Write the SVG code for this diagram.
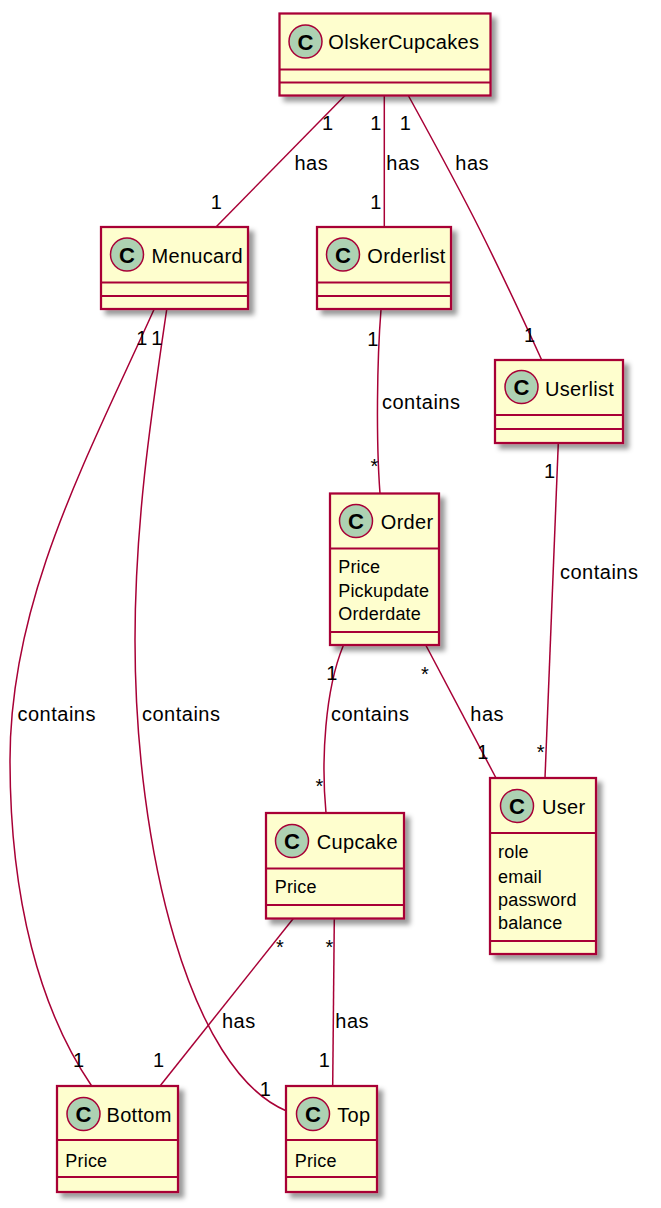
<svg xmlns="http://www.w3.org/2000/svg" width="661" height="1208" viewBox="0 0 661 1208">
<defs>
<filter id="sh" x="-20%" y="-20%" width="150%" height="150%">
<feGaussianBlur in="SourceAlpha" stdDeviation="2.5"/>
<feColorMatrix type="matrix" values="0 0 0 0 0  0 0 0 0 0  0 0 0 0 0  0 0 0 0.4 0"/>
<feOffset dx="5" dy="5" result="s"/>
<feMerge><feMergeNode in="s"/><feMergeNode in="SourceGraphic"/></feMerge>
</filter>
<style>
.box{fill:#FEFECE;stroke:#A80036;stroke-width:2.25}
.div{stroke:#A80036;stroke-width:2}
.ci{fill:#ADD1B2;stroke:#A80036;stroke-width:1.5}
.cl{font-family:"Liberation Sans",Arial,sans-serif;font-weight:bold;font-size:22px;fill:#000;text-anchor:middle}
.nm{font-family:"Liberation Sans",Arial,sans-serif;font-size:20px;letter-spacing:0.3px;fill:#000}
.at{font-family:"Liberation Sans",Arial,sans-serif;font-size:18px;letter-spacing:0.2px;fill:#000}
.lb{font-family:"Liberation Sans",Arial,sans-serif;font-size:20px;letter-spacing:0.5px;fill:#000}
.ln{fill:none;stroke:#A80036;stroke-width:1.5}
</style>
</defs>
<rect width="661" height="1208" fill="#FFFFFF"/>

<g id="connectors">
<path class="ln" d="M345,95.5 L216,227"/>
<path class="ln" d="M384.3,95.5 L384.3,227"/>
<path class="ln" d="M408.3,95.5 C430,135 460,190 480,230 C505,280 528,330 541.7,360"/>
<path class="ln" d="M381,309.5 C377,360 376,440 380,493.5"/>
<path class="ln" d="M558.3,443 L545,778"/>
<path class="ln" d="M154,309.5 C86,460 10,600 10,760 C10,900 40,1010 91.7,1086"/>
<path class="ln" d="M166.7,309.5 C152,410 135,520 135,640 C135,850 190,1070 286,1110.7"/>
<path class="ln" d="M343.3,645.5 C325,690 321,760 326,813"/>
<path class="ln" d="M426,645.5 L496,778"/>
<path class="ln" d="M293.3,918.5 L160,1086"/>
<path class="ln" d="M334.3,918.5 L332.7,1086"/>

<text class="lb" x="322" y="130">1</text>
<text class="lb" x="294.5" y="170">has</text>
<text class="lb" x="210.7" y="209.3">1</text>

<text class="lb" x="370.3" y="130">1</text>
<text class="lb" x="386.3" y="170">has</text>
<text class="lb" x="370.3" y="209.3">1</text>

<text class="lb" x="399.7" y="130">1</text>
<text class="lb" x="455.3" y="170">has</text>
<text class="lb" x="524" y="341.7">1</text>

<text class="lb" x="367.3" y="346">1</text>
<text class="lb" x="382" y="409.3">contains</text>
<text class="lb" x="370.4" y="472.6">*</text>

<text class="lb" x="544" y="478.3">1</text>
<text class="lb" x="560" y="579">contains</text>
<text class="lb" x="536.7" y="759.3">*</text>

<text class="lb" x="136.3" y="345">1</text>
<text class="lb" x="17.5" y="720.7">contains</text>
<text class="lb" x="73" y="1066.7">1</text>

<text class="lb" x="151.3" y="345">1</text>
<text class="lb" x="142" y="720.7">contains</text>
<text class="lb" x="259.7" y="1096">1</text>

<text class="lb" x="326.3" y="680">1</text>
<text class="lb" x="331" y="720.7">contains</text>
<text class="lb" x="315.4" y="792.6">*</text>

<text class="lb" x="421" y="681">*</text>
<text class="lb" x="470.3" y="720.7">has</text>
<text class="lb" x="477.3" y="759.3">1</text>

<text class="lb" x="276" y="954">*</text>
<text class="lb" x="222" y="1028.3">has</text>
<text class="lb" x="153" y="1066.7">1</text>

<text class="lb" x="325.4" y="953.6">*</text>
<text class="lb" x="335.3" y="1028.3">has</text>
<text class="lb" x="318.7" y="1066.7">1</text>
</g>

<g id="OlskerCupcakes">
<rect class="box" x="279.5" y="13.5" width="211" height="82" filter="url(#sh)"/>
<line class="div" x1="279.5" y1="69.5" x2="490.5" y2="69.5"/>
<line class="div" x1="279.5" y1="82.5" x2="490.5" y2="82.5"/>
<circle class="ci" cx="305.5" cy="41.5" r="16.5"/>
<text class="cl" x="305.5" y="49.5">C</text>
<text class="nm" x="328.3" y="49">OlskerCupcakes</text>
</g>

<g id="Menucard">
<rect class="box" x="101" y="227" width="147" height="82" filter="url(#sh)"/>
<line class="div" x1="101" y1="282.5" x2="248" y2="282.5"/>
<line class="div" x1="101" y1="296" x2="248" y2="296"/>
<circle class="ci" cx="127" cy="254.5" r="16.5"/>
<text class="cl" x="127" y="262.5">C</text>
<text class="nm" x="151.5" y="263">Menucard</text>
</g>

<g id="Orderlist">
<rect class="box" x="317" y="227" width="134" height="82" filter="url(#sh)"/>
<line class="div" x1="317" y1="282.5" x2="451" y2="282.5"/>
<line class="div" x1="317" y1="296" x2="451" y2="296"/>
<circle class="ci" cx="343" cy="254.5" r="16.5"/>
<text class="cl" x="343" y="262.5">C</text>
<text class="nm" x="367.3" y="263">Orderlist</text>
</g>

<g id="Userlist">
<rect class="box" x="495" y="360" width="128" height="83" filter="url(#sh)"/>
<line class="div" x1="495" y1="415" x2="623" y2="415"/>
<line class="div" x1="495" y1="429" x2="623" y2="429"/>
<circle class="ci" cx="521.5" cy="387" r="16.5"/>
<text class="cl" x="521.5" y="395">C</text>
<text class="nm" x="545" y="395.5">Userlist</text>
</g>

<g id="Order">
<rect class="box" x="330" y="493.5" width="109" height="151.5" filter="url(#sh)"/>
<line class="div" x1="330" y1="548.5" x2="439" y2="548.5"/>
<line class="div" x1="330" y1="632" x2="439" y2="632"/>
<circle class="ci" cx="356" cy="521" r="16.5"/>
<text class="cl" x="356" y="529">C</text>
<text class="nm" x="380.8" y="529">Order</text>
<text class="at" x="338.2" y="573">Price</text>
<text class="at" x="338.2" y="596.7">Pickupdate</text>
<text class="at" x="338.2" y="620">Orderdate</text>
</g>

<g id="Cupcake">
<rect class="box" x="266" y="813" width="138" height="105.5" filter="url(#sh)"/>
<line class="div" x1="266" y1="868.5" x2="404" y2="868.5"/>
<line class="div" x1="266" y1="905" x2="404" y2="905"/>
<circle class="ci" cx="292" cy="841" r="16.5"/>
<text class="cl" x="292" y="849">C</text>
<text class="nm" x="316.8" y="848.5">Cupcake</text>
<text class="at" x="274.7" y="893.3">Price</text>
</g>

<g id="User">
<rect class="box" x="490" y="778" width="106" height="176" filter="url(#sh)"/>
<line class="div" x1="490" y1="833" x2="596" y2="833"/>
<line class="div" x1="490" y1="941" x2="596" y2="941"/>
<circle class="ci" cx="517" cy="806" r="16.5"/>
<text class="cl" x="517" y="814">C</text>
<text class="nm" x="542" y="814">User</text>
<text class="at" x="498" y="858.3">role</text>
<text class="at" x="498" y="882.5">email</text>
<text class="at" x="498" y="905.5">password</text>
<text class="at" x="498" y="929.3">balance</text>
</g>

<g id="Bottom">
<rect class="box" x="57" y="1086" width="121" height="106" filter="url(#sh)"/>
<line class="div" x1="57" y1="1140" x2="178" y2="1140"/>
<line class="div" x1="57" y1="1177" x2="178" y2="1177"/>
<circle class="ci" cx="83.5" cy="1114" r="16.5"/>
<text class="cl" x="83.5" y="1122">C</text>
<text class="nm" x="106.5" y="1121.5">Bottom</text>
<text class="at" x="65.3" y="1166.5">Price</text>
</g>

<g id="Top">
<rect class="box" x="286" y="1086" width="91" height="106" filter="url(#sh)"/>
<line class="div" x1="286" y1="1140" x2="377" y2="1140"/>
<line class="div" x1="286" y1="1177" x2="377" y2="1177"/>
<circle class="ci" cx="313" cy="1114" r="16.5"/>
<text class="cl" x="313" y="1122">C</text>
<text class="nm" x="337.3" y="1121.5">Top</text>
<text class="at" x="294.7" y="1166.5">Price</text>
</g>
</svg>
